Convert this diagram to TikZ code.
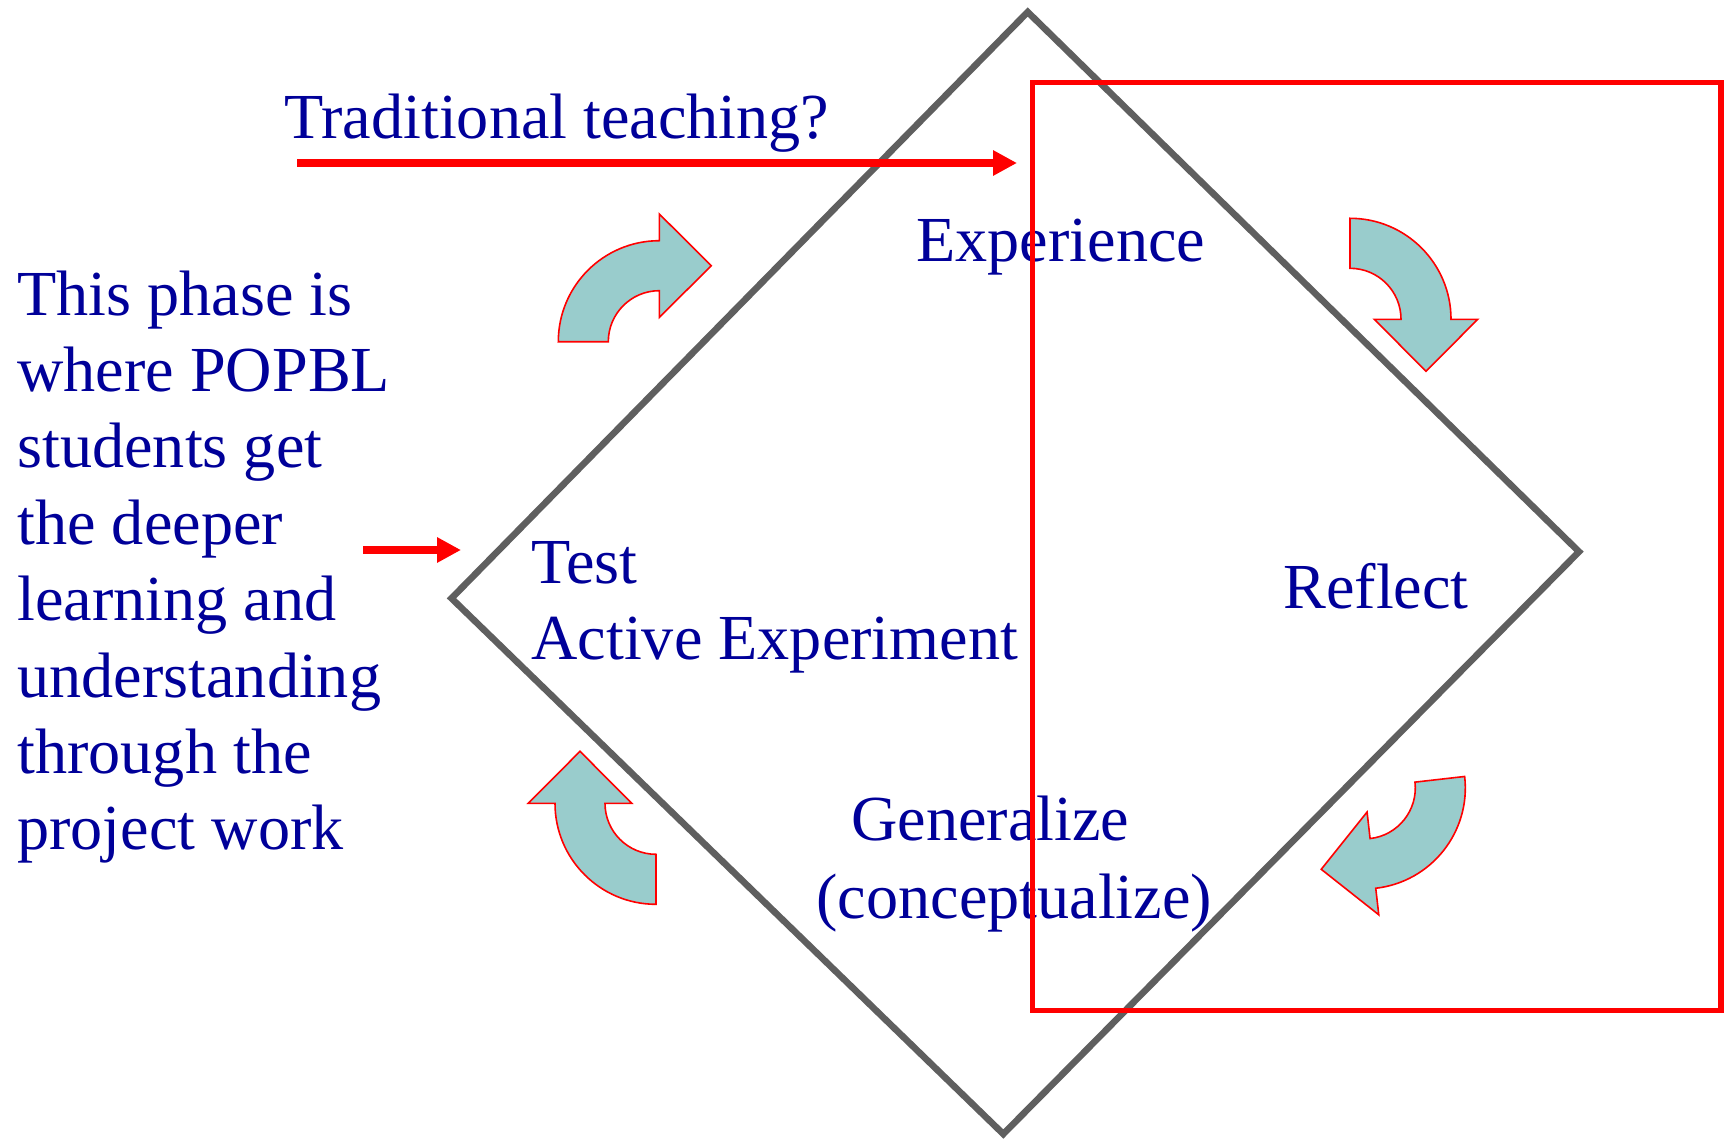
\documentclass[tikz,border=0pt]{standalone}
\usepackage{fontspec}
\setmainfont{Liberation Serif}
\usetikzlibrary{calc,arrows.meta}
\definecolor{txtblue}{HTML}{000099}
\definecolor{diagray}{HTML}{5F5F5F}
\definecolor{cycfill}{HTML}{99CCCC}
\definecolor{pured}{HTML}{FF0000}
\tikzset{
  txt/.style={text=txtblue, font=\fontsize{32.1}{38}\selectfont, inner sep=0pt, anchor=base west},
  diam/.style={draw=diagray, line width=3.3pt, line join=miter},
  redbox/.style={draw=pured, line width=2.6pt},
  redarrow/.style={draw=pured, line width=3.75pt, -{Triangle[length=12pt,width=12pt]}},
  cycarr/.style={fill=cycfill, draw=pured, line width=0.8pt, line join=miter}
}
\newcommand\cycarrow[3]{%
  \filldraw[cycarr] ($(#1,#2)+(#3:101)$) arc[start angle=#3, end angle={#3+90}, radius=101]
   -- ($(#1,#2)+({#3+90}:127.7)$) -- ($(#1,#2)+({#3+90}:76)+({#3+180}:52)$)
   -- ($(#1,#2)+({#3+90}:24.3)$) -- ($(#1,#2)+({#3+90}:51)$)
   arc[start angle={#3+90}, end angle=#3, radius=51] -- cycle;}
\begin{document}
\begin{tikzpicture}[x=0.5pt,y=-0.5pt]
\useasboundingbox (0,0) rectangle (1727,1139);
% texts
\node[txt] (trad) at (284,138.5) {Traditional teaching?};
\node[txt] (exp) at (916,261) {Experience};
\node[txt] (refl) at (1283,608) {Reflect};
\node[txt] (test) at (531,583) {Test};
\node[txt] (act) at (531,659) {Active Experiment};
\node[txt] (gen) at (851,840) {Generalize};
\node[txt] (conc) at (816,918) {(conceptualize)};
\foreach \t [count=\i from 0] in {This phase is,where POPBL,students get,the deeper,learning and,understanding,through the,project work}
  \node[txt] (L\i) at (17,{315+76.4*\i}) {\t};
% diamond
\coordinate (dt) at (1027.7,12);
\coordinate (dr) at (1579,551.7);
\coordinate (db) at (1003.3,1134);
\coordinate (dl) at (451.5,598.3);
\draw[diam] (dt) -- (dr) -- (db) -- (dl) -- cycle;
% red box
\coordinate (r1) at (1032.5,82.5);
\coordinate (r2) at (1721,1010.5);
\draw[redbox] (r1) rectangle (r2);
% cycle arrows
\cycarrow{659.3}{341.7}{180}
\cycarrow{1350}{319.3}{270}
\cycarrow{1364.3}{787.9}{-6.5}
\cycarrow{656}{803.3}{90}
% straight arrows
\coordinate (t0) at (297,163);
\coordinate (t1) at (1017,163);
\draw[redarrow] (t0) -- (t1);
\coordinate (s0) at (363,550);
\coordinate (s1) at (461,550);
\draw[redarrow] (s0) -- (s1);
\end{tikzpicture}
\end{document}
